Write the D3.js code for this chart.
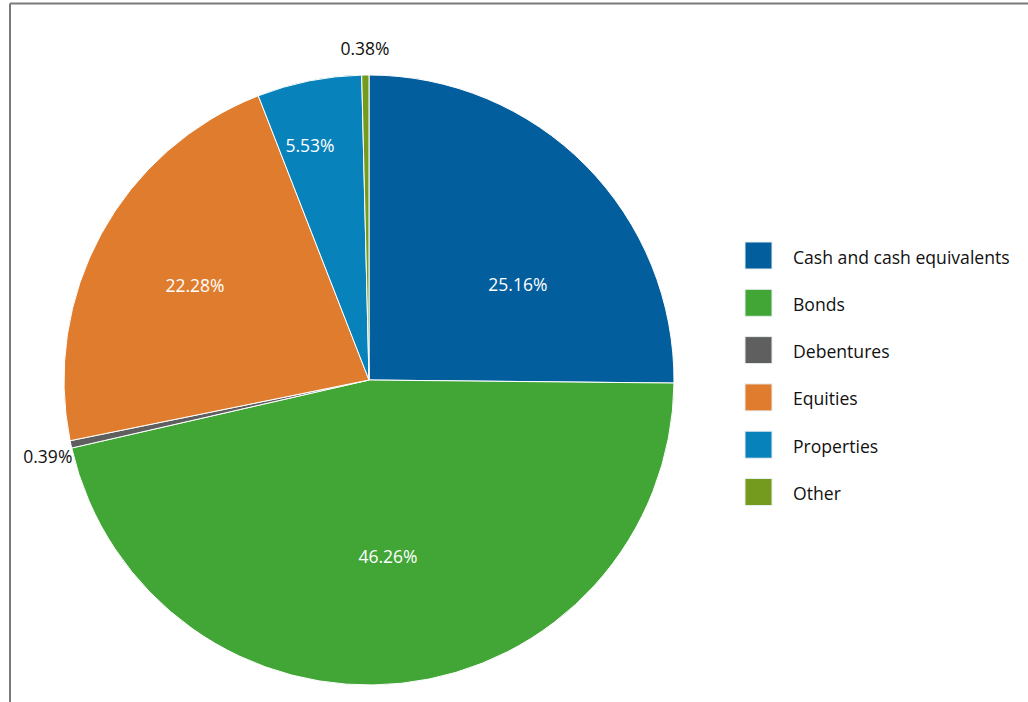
<!DOCTYPE html>
<html>
<head>
<meta charset="utf-8">
<script src="https://cdn.jsdelivr.net/npm/d3@7/dist/d3.min.js"></script>
<style>
  html, body { margin: 0; padding: 0; background: #fff; }
  svg { display: block; font-family: "Open Sans", "Noto Sans", sans-serif; }
</style>
</head>
<body>
<svg id="chart" width="1028" height="702"></svg>
<script>
// Asset allocation, percent of total
const categories = ["Cash and cash equivalents", "Bonds", "Debentures", "Equities", "Properties", "Other"];
const shares = [25.16, 46.26, 0.39, 22.28, 5.53, 0.38];
const colors = ["#035e9e", "#41a636", "#5f5f5f", "#e07c2e", "#0782bb", "#759b1e"];

// Label placement: inside slices for large shares, outside for thin ones
const labelInside = [true, true, false, true, true, false];
const labelRadiusFrac = [0.58, 0.58, 1.082, 0.65, 0.793, 1.09];
const labelAngleShift = [0.21, 0, -0.019, 0, -0.049, 0];

const width = 1028, height = 702;
const cx = 369, cy = 380, R = 305;

const svg = d3.select("#chart");

// frame lines along top and left edges
svg.append("line").attr("x1", 10).attr("y1", 3.5).attr("x2", width).attr("y2", 3.5)
  .attr("stroke", "#7a7a7a").attr("stroke-width", 2);
svg.append("line").attr("x1", 10).attr("y1", 3.5).attr("x2", 10).attr("y2", height)
  .attr("stroke", "#7a7a7a").attr("stroke-width", 2);

const data = categories.map((c, i) => ({ name: c, value: shares[i], i }));

const pie = d3.pie().value(d => d.value).sort(null);
const arcs = pie(data);
const arc = d3.arc().innerRadius(0).outerRadius(R);

const g = svg.append("g").attr("transform", `translate(${cx},${cy})`);

g.selectAll("path.slice")
  .data(arcs)
  .join("path")
  .attr("class", "slice")
  .attr("d", arc)
  .attr("fill", d => colors[d.data.i])
  .attr("stroke", "#fff")
  .attr("stroke-width", 1);

const fmt = v => v.toFixed(2) + "%";

g.selectAll("text.lbl")
  .data(arcs)
  .join("text")
  .attr("class", "lbl")
  .attr("transform", d => {
    const i = d.data.i;
    const a = (d.startAngle + d.endAngle) / 2 + labelAngleShift[i];
    const r = R * labelRadiusFrac[i];
    return `translate(${Math.sin(a) * r},${-Math.cos(a) * r})`;
  })
  .attr("text-anchor", "middle")
  .attr("dominant-baseline", "central")
  .attr("font-size", 17.5)
  .attr("fill", d => labelInside[d.data.i] ? "#ffffff" : "#111111")
  .text(d => fmt(d.data.value));

// legend
const legend = svg.append("g").attr("transform", "translate(745,242)");
const item = legend.selectAll("g.item")
  .data(data)
  .join("g")
  .attr("class", "item")
  .attr("transform", (d, i) => `translate(0,${i * 47.3})`);

item.append("rect")
  .attr("width", 27).attr("height", 27)
  .attr("fill", d => colors[d.i])
  .attr("stroke", "#e8eef0").attr("stroke-width", 1);

item.append("text")
  .attr("x", 48).attr("y", 14.5)
  .attr("dominant-baseline", "central")
  .attr("font-size", 17.6)
  .attr("fill", "#111")
  .text(d => d.name);
</script>
</body>
</html>
